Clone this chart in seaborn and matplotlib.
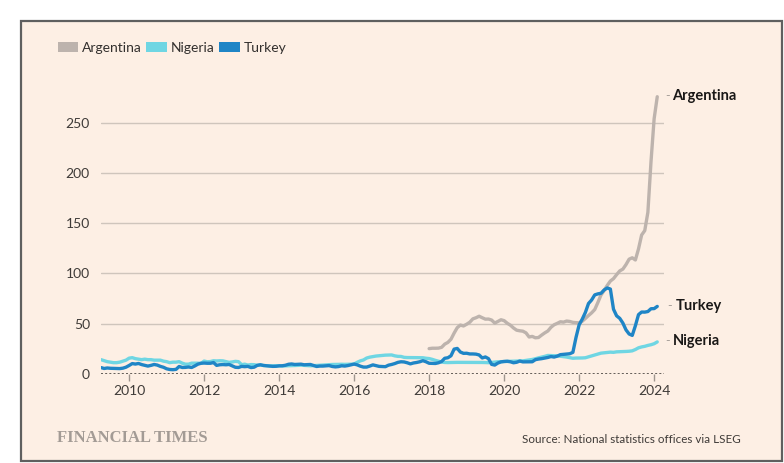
import numpy as np
import pandas as pd
import matplotlib
matplotlib.use("Agg")
import matplotlib.pyplot as plt
from matplotlib.patches import Patch, Rectangle
import seaborn as sns

# ---------------- data (annual % change in consumer prices, monthly) -------------
countries = ["Argentina", "Nigeria", "Turkey"]
start_turkey_nigeria = "2009-04"
start_argentina = "2018-01"

turkey = [
    6.1, 5.2, 5.7, 5.4, 5.3, 5.3, 5.1, 5.5, 6.5,
    8.2, 10.1, 9.6, 10.2, 9.1, 8.4, 7.6, 8.3, 9.2, 8.6, 7.3, 6.4,
    4.9, 4.2, 4.0, 4.3, 7.2, 6.2, 6.3, 6.7, 6.2, 7.7, 9.5, 10.4,
    10.6, 10.4, 10.4, 11.1, 8.3, 8.9, 9.1, 8.9, 9.2, 7.8, 6.4, 6.2,
    7.3, 7.0, 7.3, 6.1, 6.5, 8.3, 8.9, 8.2, 7.9, 7.7, 7.3, 7.4,
    7.8, 7.9, 8.4, 9.4, 9.7, 9.2, 9.3, 9.5, 8.9, 9.0, 9.2, 8.2,
    7.2, 7.6, 7.6, 7.9, 8.1, 7.2, 6.8, 7.1, 7.9, 7.6, 8.1, 8.8,
    9.6, 8.8, 7.5, 6.6, 6.6, 7.6, 8.8, 8.1, 7.3, 7.2, 7.0, 8.5,
    9.2, 10.1, 11.3, 11.9, 11.7, 10.9, 9.8, 10.7, 11.2, 11.9, 13.0, 11.9,
    10.4, 10.3, 10.2, 10.9, 12.2, 15.4, 15.9, 17.9, 24.5, 25.2, 21.6, 20.3,
    20.4, 19.7, 19.7, 19.5, 18.7, 15.7, 16.7, 15.0, 9.3, 8.6, 10.6, 11.8,
    12.2, 12.4, 11.9, 10.9, 11.4, 12.6, 11.8, 11.8, 11.8, 11.9, 14.0, 14.6,
    15.0, 15.6, 16.2, 17.1, 16.6, 17.5, 19.0, 19.3, 19.6, 19.9, 21.3, 36.1,
    48.7, 54.4, 61.1, 70.0, 73.5, 78.6, 79.6, 80.2, 83.5, 85.5, 84.4, 64.3,
    57.7, 55.2, 50.5, 43.7, 39.6, 38.2, 47.8, 58.9, 61.5, 61.4, 62.0, 64.8,
    64.9, 67.1,
]

nigeria = [
    14.0, 13.0, 12.0, 11.5, 11.0, 11.0, 11.5, 12.5, 13.5,
    15.5, 16.0, 15.0, 14.5, 14.0, 14.5, 14.0, 14.0, 13.5, 13.5, 13.5, 12.5,
    12.0, 11.0, 11.5, 11.5, 12.0, 10.5, 9.5, 9.5, 10.5, 10.5, 10.5, 10.3,
    12.6, 11.9, 12.1, 12.9, 12.7, 12.9, 12.8, 12.1, 11.3, 11.7, 12.3, 12.0,
    9.0, 9.5, 8.6, 9.1, 9.0, 8.4, 8.7, 8.2, 8.0, 7.8, 7.9, 8.0,
    8.0, 7.7, 7.8, 7.9, 8.0, 8.2, 8.3, 8.5, 8.3, 8.1, 7.9, 8.0,
    8.2, 8.4, 8.5, 8.7, 9.0, 9.2, 9.2, 9.3, 9.4, 9.3, 9.4, 9.6,
    9.6, 11.4, 12.8, 13.7, 15.6, 16.5, 17.1, 17.6, 17.9, 18.3, 18.5, 18.6,
    18.7, 17.8, 17.3, 17.2, 16.3, 16.1, 16.1, 16.0, 16.0, 15.9, 15.9, 15.4,
    15.1, 14.3, 13.3, 12.5, 11.6, 11.2, 11.1, 11.2, 11.3, 11.3, 11.3, 11.4,
    11.4, 11.3, 11.3, 11.4, 11.4, 11.2, 11.1, 11.0, 11.2, 11.6, 11.9, 12.0,
    12.1, 12.2, 12.3, 12.3, 12.4, 12.6, 12.8, 13.2, 13.7, 14.2, 14.9, 15.8,
    16.5, 17.3, 18.2, 18.1, 17.9, 17.8, 17.4, 17.0, 16.6, 16.0, 15.4, 15.6,
    15.6, 15.7, 15.9, 16.8, 17.7, 18.6, 19.6, 20.5, 20.8, 21.1, 21.5, 21.3,
    21.8, 21.9, 22.0, 22.2, 22.4, 22.8, 24.1, 25.8, 26.7, 27.3, 28.2, 28.9,
    29.9, 31.7,
]

argentina = [
    25.0, 25.4, 25.4, 25.5, 26.3, 29.5, 31.2, 34.4, 40.5, 45.9, 48.5, 47.6,
    49.3, 51.3, 54.7, 55.8, 57.3, 55.8, 54.4, 54.5, 53.5, 50.5, 52.1, 53.8,
    52.9, 50.3, 48.4, 45.6, 43.4, 42.8, 42.4, 40.7, 36.6, 37.2, 35.8, 36.1,
    38.5, 40.7, 42.6, 46.3, 48.8, 50.2, 51.8, 51.4, 52.5, 52.1, 51.2, 50.9,
    50.7, 52.3, 55.1, 58.0, 60.7, 64.0, 71.0, 78.5, 83.0, 88.0, 92.4, 94.8,
    98.8, 102.5, 104.3, 108.8, 114.2, 115.6, 113.4, 124.4, 138.3, 142.7, 160.9, 211.4,
    254.2, 276.2,
]

y_ticks = [0, 50, 100, 150, 200, 250]
x_ticks = [2010, 2012, 2014, 2016, 2018, 2020, 2022, 2024]
colors = {"Argentina": "#bdb3ad", "Nigeria": "#6fd6e3", "Turkey": "#1f85c6"}
source_text = "Source: National statistics offices via LSEG"
brand_text = "FINANCIAL TIMES"


def to_frame(name, values, start):
    p = pd.period_range(start=start, periods=len(values), freq="M")
    x = p.year + (p.month - 1) / 12.0
    return pd.DataFrame({"year": x, "value": values, "country": name})


df = pd.concat([
    to_frame("Argentina", argentina, start_argentina),
    to_frame("Nigeria", nigeria, start_turkey_nigeria),
    to_frame("Turkey", turkey, start_turkey_nigeria),
], ignore_index=True)

# ---------------- figure -----------------
sns.set_theme(style="white")
plt.rcParams["font.family"] = ["Lato", "DejaVu Sans"]

W, H = 784, 463
fig = plt.figure(figsize=(W / 100, H / 100), dpi=100, facecolor="white")

# framed paper-coloured panel
fig.patches.append(Rectangle((21 / W, 1 - 460.5 / H), (782 - 21) / W, (460.5 - 20.5) / H,
                             transform=fig.transFigure, facecolor="#fdefe4",
                             edgecolor="#5f5f5f", linewidth=1.6, zorder=-10))

ax_l, ax_r = 101 / W, 663.5 / W
y0_px, y250_px = 373.7, 123.0
ppu = (y0_px - y250_px) / 250.0
ytop = 282
ax_b = 1 - y0_px / H
ax_t = 1 - (y0_px - ytop * ppu) / H
ax = fig.add_axes([ax_l, ax_b, ax_r - ax_l, ax_t - ax_b])
ax.set_facecolor("none")

xmin = 2009.25
xmax = xmin + (ax_r - ax_l) * W / 37.5
ax.set_xlim(xmin, xmax)
ax.set_ylim(0, ytop)

for yt in y_ticks[1:]:
    ax.axhline(yt, color="#cfc5bc", linewidth=1.0, zorder=1)
ax.axhline(0, color="#4a4541", linewidth=1.2, linestyle=(0, (1.2, 1.3)), zorder=1)

sns.lineplot(data=df, x="year", y="value", hue="country", hue_order=countries,
             palette=colors, linewidth=2.4, legend=False, ax=ax, zorder=3)
for ln in ax.lines:
    ln.set_solid_capstyle("round")
    ln.set_solid_joinstyle("round")

for s in ax.spines.values():
    s.set_visible(False)

ax.set_yticks(y_ticks)
ax.set_xticks(x_ticks)
ax.set_xticklabels([str(t) for t in x_ticks])
ax.set_xlabel("")
ax.set_ylabel("")
ax.tick_params(axis="y", length=0, pad=8, labelsize=10, labelcolor="#3f3b38")
ax.tick_params(axis="x", length=5, width=1, color="#9e958e", direction="out",
               pad=3, labelsize=10, labelcolor="#3f3b38", bottom=True)
ax.grid(False)

# end labels
last = df.groupby("country").last()
label_offsets = {"Argentina": 11.0, "Nigeria": 11.0, "Turkey": 13.0}
for name in countries:
    xv = last.loc[name, "year"]
    yv = last.loc[name, "value"]
    off = label_offsets[name]
    ax.annotate("-", xy=(xv, yv), xytext=(off - 5.5, 0.5), textcoords="offset points",
                va="center", ha="left", fontsize=9, color="#a8a09a", annotation_clip=False)
    ax.annotate(name, xy=(xv, yv), xytext=(off, 0.5), textcoords="offset points",
                va="center", ha="left", fontsize=10.5, fontweight="bold",
                color="#1a1817", annotation_clip=False)

# legend
handles = [Patch(facecolor=colors[c], edgecolor="none", label=c) for c in countries]
fig.legend(handles=handles, loc="upper left", bbox_to_anchor=(52 / W, 1 - 36 / H),
           ncol=3, frameon=False, fontsize=10, handlelength=1.45, handleheight=0.75,
           handletextpad=0.3, columnspacing=0.35, labelcolor="#33302e", borderaxespad=0)

fig.text(741 / W, 1 - 439.5 / H, source_text, ha="right", va="center", fontsize=8.4,
         color="#3f3b38")
fig.text(57 / W, 1 - 437.5 / H, brand_text, ha="left", va="center", fontsize=12,
         fontweight="bold", color="#a39b95", family=["Liberation Serif", "DejaVu Serif"])

fig.savefig("out.png", dpi=100, facecolor="white")
